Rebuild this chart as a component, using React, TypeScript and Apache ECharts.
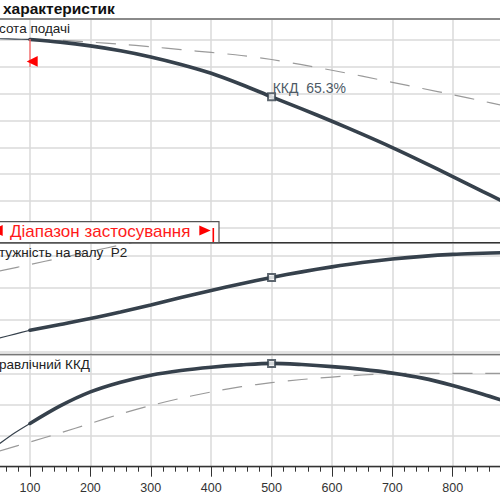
import React, { useEffect, useRef } from "react";
import * as echarts from "echarts";

// Flow rate values (x axis)
const flow = [100, 150, 200, 250, 300, 350, 400, 450, 500, 550, 600, 650, 700, 750, 800, 850, 880];
const flowLow = [50, 75, 100];
const flowRefPower = [50, 100, 150, 200, 250, 300];
const flowRefEff = [50, 100, 150, 200, 250, 300, 350, 400, 450, 500, 550, 600, 650, 700, 750, 800, 850, 880];
const xTicks = [100, 200, 300, 400, 500, 600, 700, 800];

// Висота подачі (head)
const headPump = [45.09, 44.59, 43.89, 42.99, 41.84, 40.44, 38.79, 36.7, 34.4, 32.15, 29.85, 27.45, 24.95, 22.3, 19.55, 16.75, 15.1];
const headRef = [45.13, 44.94, 44.59, 44.2, 43.73, 43.19, 42.67, 42.1, 41.35, 40.4, 39.35, 38.25, 37.1, 35.95, 34.8, 33.6, 32.85];
const headLow = [45.22, 45.16, 45.09];

// Потужність на валу P2
const power = [26.69, 28.5, 30.34, 32.41, 34.62, 36.9, 39.15, 41.25, 43.2, 44.95, 46.5, 47.85, 48.95, 49.8, 50.4, 50.75, 50.94];
const powerRef = [45.22, 47.25, 49.28, 51.31, 53.34, 55.4];
const powerLow = [24.3, 25.5, 26.69];

// Гідравлічний ККД
const eff = [27.78, 39.04, 48.04, 54.28, 58.78, 61.8, 63.9, 65.4, 66.37, 65.6, 64.3, 62.5, 60.1, 56.9, 52.2, 46.6, 42.9];
const effRef = [10.1, 15.88, 21.67, 27.78, 33.89, 39.3, 44.0, 48.0, 51.4, 54.0, 56.0, 57.6, 58.9, 59.8, 60.0, 60.0, 60.0, 60.0];
const effLow = [14.9, 21.8, 27.78];

const dutyFlow = 500;
const dutyLabel = "ККД  65.3%";

const CURVE = "#36414c";
const DASH = "#9a9a9a";
const GRIDC = "#dadada";
const FONT = "Liberation Sans, Arial, sans-serif";

const PX = 0.6039;
const GL = 30 - 100 * PX;
const GR = 500 - (GL + 900 * PX);

const pairs = (xs: number[], ys: number[]) => xs.map((x, i) => [x, ys[i]]);

export default function App() {
  const ref = useRef<HTMLDivElement>(null);
  useEffect(() => {
    const chart = echarts.init(ref.current!, null, { renderer: "svg" });
    const di = flow.indexOf(dutyFlow);
    const hiddenX = (g: number) => ({ type: "value", gridIndex: g, min: 0, max: 900, interval: 100, show: false });
    const panelY = (g: number, min: number, max: number, interval: number) => ({
      type: "value",
      gridIndex: g,
      min,
      max,
      interval,
      axisLine: { show: false },
      axisTick: { show: false },
      axisLabel: { show: false },
      splitLine: { show: true, lineStyle: { color: GRIDC, width: 1.5 } },
    });
    const dashed = (xi: number, data: number[][]) => ({
      type: "line",
      xAxisIndex: xi,
      yAxisIndex: xi,
      data,
      showSymbol: false,
      smooth: 0.3,
      lineStyle: { color: DASH, width: 1.2, type: [20, 13] },
      z: 2,
    });
    const thin = (xi: number, data: number[][]) => ({
      type: "line",
      xAxisIndex: xi,
      yAxisIndex: xi,
      data,
      showSymbol: false,
      smooth: 0.3,
      lineStyle: { color: CURVE, width: 1.2 },
      z: 3,
    });
    const main = (xi: number, data: number[][]) => ({
      type: "line",
      xAxisIndex: xi,
      yAxisIndex: xi,
      data,
      showSymbol: false,
      smooth: 0.3,
      lineStyle: { color: CURVE, width: 3.6, cap: "round" },
      z: 4,
    });
    const duty = (xi: number, y: number) => ({
      type: "scatter",
      xAxisIndex: xi,
      yAxisIndex: xi,
      data: [[dutyFlow, y]],
      symbol: "rect",
      symbolSize: 7,
      itemStyle: { color: "#fff", borderColor: CURVE, borderWidth: 2 },
      z: 6,
    });
    const gridBase = { left: GL, right: GR, containLabel: false, outerBoundsMode: "none" };

    chart.setOption({
      animation: false,
      backgroundColor: "#fff",
      grid: [
        { ...gridBase, top: 19, bottom: 33.3 },
        { ...gridBase, top: 19, bottom: 272.2 },
        { ...gridBase, top: 242.7, bottom: 148.3 },
        { ...gridBase, top: 354.3, bottom: 33.3 },
      ],
      xAxis: [
        {
          type: "value",
          gridIndex: 0,
          min: 0,
          max: 900,
          interval: 100,
          axisLine: { show: true, onZero: false, lineStyle: { color: "#333", width: 1.3 } },
          axisTick: { show: true, length: 10, lineStyle: { color: "#333", width: 1 } },
          minorTick: { show: true, splitNumber: 5, length: 5, lineStyle: { color: "#333", width: 1 } },
          axisLabel: {
            margin: 15,
            fontSize: 12.5,
            color: "#333",
            fontFamily: FONT,
            formatter: (v: number) => (xTicks.includes(v) ? String(v) : ""),
          },
          splitLine: { show: true, lineStyle: { color: GRIDC, width: 1.5 } },
        },
        hiddenX(1),
        hiddenX(2),
        hiddenX(3),
      ],
      yAxis: [
        { type: "value", gridIndex: 0, min: 0, max: 1, show: false },
        panelY(1, 10, 48.9, 5),
        panelY(2, 20, 54.06, 10),
        panelY(3, 0, 72.2, 20),
      ],
      series: [
        dashed(1, pairs(flow, headRef)),
        thin(1, pairs(flowLow, headLow)),
        main(1, pairs(flow, headPump)),
        duty(1, headPump[di]),
        dashed(2, pairs(flowRefPower, powerRef)),
        thin(2, pairs(flowLow, powerLow)),
        main(2, pairs(flow, power)),
        duty(2, power[di]),
        dashed(3, pairs(flowRefEff, effRef)),
        thin(3, pairs(flowLow, effLow)),
        main(3, pairs(flow, eff)),
        duty(3, eff[di]),
      ],
      graphic: [
        { type: "line", z: 50, shape: { x1: 0, y1: 19, x2: 500, y2: 19 }, style: { stroke: "#8a8a8a", lineWidth: 2 } },
        { type: "line", z: 50, shape: { x1: 0, y1: 242.7, x2: 500, y2: 242.7 }, style: { stroke: "#333", lineWidth: 1.4 } },
        { type: "line", z: 50, shape: { x1: 0, y1: 354.5, x2: 500, y2: 354.5 }, style: { stroke: "#777", lineWidth: 1.6 } },
        {
          type: "text",
          z: 60,
          x: 3,
          y: 0,
          style: { text: "характеристик", fontSize: 15.5, fontWeight: "bold", fontFamily: FONT, fill: "#111", verticalAlign: "top" },
        },
        {
          type: "text",
          z: 60,
          x: -1,
          y: 28.8,
          style: { text: "сота подачі", fontSize: 13.5, fontFamily: FONT, fill: "#222", verticalAlign: "middle" },
        },
        {
          type: "text",
          z: 60,
          x: -1,
          y: 252,
          style: { text: "тужність на валу  P2", fontSize: 13.5, fontFamily: FONT, fill: "#222", verticalAlign: "middle" },
        },
        {
          type: "text",
          z: 60,
          x: -1,
          y: 364.3,
          style: { text: "равлічний ККД", fontSize: 13.5, fontFamily: FONT, fill: "#222", verticalAlign: "middle" },
        },
        {
          type: "text",
          z: 60,
          x: 272.7,
          y: 87.5,
          style: { text: dutyLabel, fontSize: 14, fontFamily: FONT, fill: "#4e5a66", verticalAlign: "middle" },
        },
        // application range markers
        { type: "line", z: 55, shape: { x1: 30, y1: 39, x2: 30, y2: 67 }, style: { stroke: "#ff6a6a", lineWidth: 1.3 } },
        { type: "polygon", z: 56, shape: { points: [[26.7, 61.4], [37.7, 56], [37.7, 66.8]] }, style: { fill: "#ff0000" } },
        {
          type: "rect",
          z: 70,
          shape: { x: -5, y: 221.7, width: 224, height: 21 },
          style: { fill: "#fff", stroke: "#555", lineWidth: 1.2 },
        },
        { type: "polygon", z: 71, shape: { points: [[-8.5, 230.5], [2.7, 225], [2.7, 236]] }, style: { fill: "#ff0000" } },
        {
          type: "text",
          z: 72,
          x: 10,
          y: 231.2,
          style: { text: "Діапазон застосування", fontSize: 17, fontFamily: FONT, fill: "#ff1a1a", verticalAlign: "middle" },
        },
        { type: "polygon", z: 71, shape: { points: [[199.3, 225.5], [210.7, 230.5], [199.3, 235.5]] }, style: { fill: "#ff0000" } },
        { type: "line", z: 71, shape: { x1: 213.3, y1: 228, x2: 213.3, y2: 242 }, style: { stroke: "#ff0000", lineWidth: 1.6 } },
      ],
    });
    return () => chart.dispose();
  }, []);
  return (
    <div
      ref={ref}
      style={{ position: "absolute", left: 0, top: 0, width: 500, height: 500, background: "#fff" }}
    />
  );
}
